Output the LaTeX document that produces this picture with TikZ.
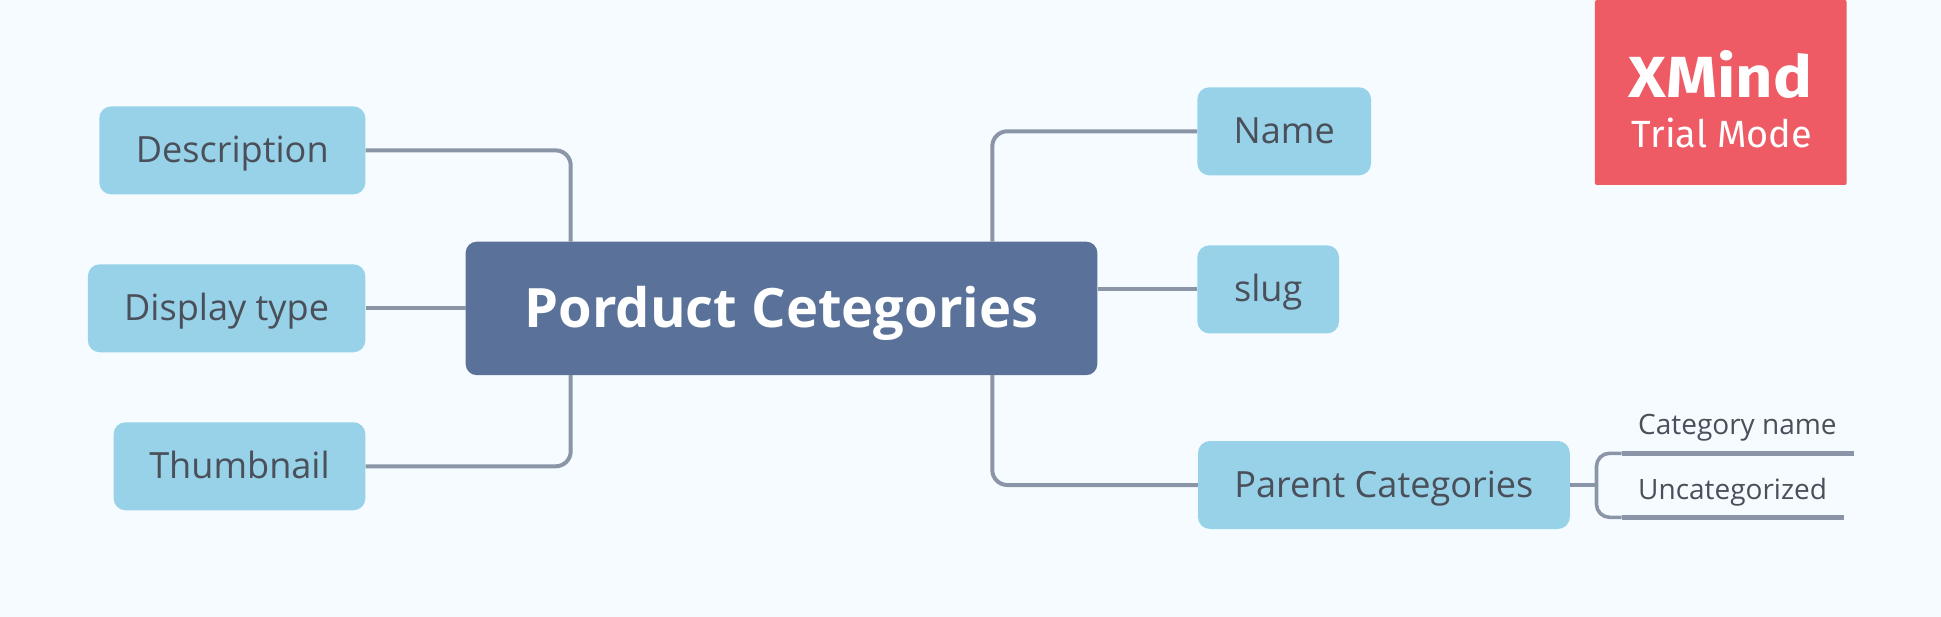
\documentclass[tikz,border=0pt]{standalone}
\usepackage{fontspec}
\setmainfont{Open Sans}
\newfontfamily\logofont{Fira Sans}
\newfontfamily\logobold[FakeStretch=1.12]{Fira Sans}
\definecolor{bgc}{HTML}{F5FBFF}
\definecolor{topicc}{HTML}{97D2E8}
\definecolor{centerc}{HTML}{5A7199}
\definecolor{linec}{HTML}{8A95A8}
\definecolor{textc}{HTML}{4A4F5A}
\definecolor{logoc}{HTML}{EE5B65}
\tikzset{
  topic/.style={fill=topicc,rounded corners=12pt,text=textc,inner sep=0pt,minimum height=88pt,text height=30pt,text depth=5pt,font=\fontsize{36.1}{40}\selectfont},
  conn/.style={draw=linec,line width=4pt,rounded corners=15pt},
  subline/.style={draw=linec,line width=5pt},
  sublabel/.style={text=textc,inner sep=0pt,anchor=base west,font=\fontsize{28}{32}\selectfont}
}
\begin{document}
\begin{tikzpicture}[x=1pt,y=-1pt]
\useasboundingbox (0,0) rectangle (1941,617);
\fill[bgc] (0,0) rectangle (1941,617);
\node[fill=logoc,rounded corners=2pt,minimum width=251.7pt,minimum height=185pt,inner sep=0pt] (logo) at (1720.8,92.5) {};
\node[text=white,inner sep=0pt,anchor=base,font=\logobold\bfseries\fontsize{58}{60}\selectfont] (xmind) at (1720.5,97.3) {XMind};
\node[text=white,inner sep=0pt,anchor=base,font=\logofont\fontsize{37.9}{40}\selectfont] (trial) at (1722,147.7) {Trial Mode};
\node[fill=centerc,rounded corners=11pt,minimum width=631.6pt,minimum height=133.4pt,inner sep=0pt,text=white,text height=45pt,text depth=7.4pt,font=\bfseries\fontsize{54.3}{60}\selectfont] (central) at (781.5,308.4) {Porduct Cetegories};
\node[topic,minimum width=266.1pt] (desc) at (232.3,150.4) {Description};
\node[topic,minimum width=277.5pt] (disp) at (226.6,308.3) {Display type};
\node[topic,minimum width=251.8pt] (thumb) at (239.5,466.3) {Thumbnail};
\node[topic,minimum width=173.7pt] (name) at (1284.2,131.3) {Name};
\node[topic,minimum width=141.7pt] (slug) at (1268.2,289.4) {slug};
\node[topic,minimum width=371.8pt] (parent) at (1383.9,485) {Parent Categories};
\coordinate (cl) at (570.7,241.7);
\coordinate (cr) at (992.3,241.7);
\coordinate (cb) at (570.7,375.1);
\coordinate (cd) at (992.3,375.1);
\draw[conn] (desc.east) -| (cl);
\draw[conn] (thumb.east) -| (cb);
\draw[conn] (name.west) -| (cr);
\draw[conn] (parent.west) -| (cd);
\draw[conn] (disp.east) -- (disp.east -| central.west);
\draw[conn] (slug.west) -- (slug.west -| central.east);
\node[sublabel] (catname) at (1638,435) {Category name};
\node[sublabel] (uncat) at (1638,499.3) {Uncategorized};
\coordinate (brk) at (1596.5,485);
\coordinate (tl) at (1621.7,453.3);
\coordinate (tr) at (1853.8,453.3);
\coordinate (bl) at (1621.7,517.3);
\coordinate (br) at (1843.7,517.3);
\draw[conn] (parent.east) -- (brk);
\draw[conn,line width=3.6pt,rounded corners=13pt] (tl) -| (brk) |- (bl);
\draw[subline] (tl) -- (tr);
\draw[subline] (bl) -- (br);
\end{tikzpicture}
\end{document}
